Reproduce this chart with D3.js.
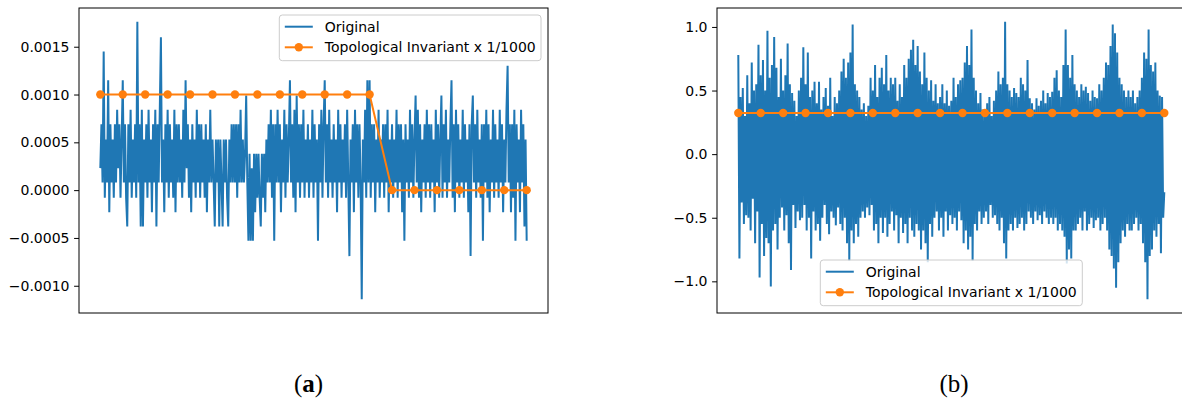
<!DOCTYPE html>
<html><head><meta charset="utf-8">
<script src="https://cdn.jsdelivr.net/npm/d3@7"></script>
<style>body{margin:0;background:#fff}svg{display:block}</style>
</head><body>
<svg id="chart" width="1182" height="401"></svg>
<script>
// ---- data ----
// panel (a): original signal samples
const originalA = [
2.3e-4,6.9e-4,0.8e-4,14.5e-4,-0.8e-4,5.3e-4,0.8e-4,11.5e-4,-2.3e-4,6.9e-4,
0.8e-4,5.3e-4,-0.8e-4,6.9e-4,0.8e-4,8.4e-4,2.3e-4,6.9e-4,-0.8e-4,5.3e-4,
11.5e-4,0.8e-4,6.9e-4,-0.8e-4,-3.8e-4,6.9e-4,0.8e-4,8.4e-4,-0.8e-4,5.3e-4,
0.8e-4,6.9e-4,-0.8e-4,17.6e-4,0.8e-4,6.9e-4,-3.8e-4,8.4e-4,-3.8e-4,5.3e-4,
0.8e-4,6.9e-4,-0.8e-4,8.4e-4,0.8e-4,5.3e-4,-2.3e-4,6.9e-4,0.8e-4,8.4e-4,
-3.8e-4,6.9e-4,0.8e-4,8.4e-4,16e-4,0.8e-4,5.3e-4,-2.3e-4,6.9e-4,0.8e-4,
8.4e-4,-0.8e-4,6.9e-4,0.8e-4,5.3e-4,-0.8e-4,8.4e-4,-2.3e-4,6.9e-4,0.8e-4,
6.9e-4,0.8e-4,5.3e-4,-0.8e-4,8.4e-4,0.8e-4,11.5e-4,2.3e-4,6.9e-4,-0.8e-4,
5.3e-4,-2.3e-4,6.9e-4,0.8e-4,5.3e-4,-0.8e-4,8.4e-4,0.8e-4,6.9e-4,-0.8e-4,
6.9e-4,0.8e-4,5.3e-4,-0.8e-4,6.9e-4,-2.3e-4,5.3e-4,0.8e-4,8.4e-4,0.8e-4,
5.3e-4,0.8e-4,-3.8e-4,5.3e-4,0.8e-4,5.3e-4,-3.8e-4,5.3e-4,0.8e-4,-3.8e-4,
5.3e-4,0.8e-4,5.3e-4,-0.8e-4,-3.8e-4,5.3e-4,0.8e-4,6.9e-4,0.8e-4,6.9e-4,
0.8e-4,6.9e-4,-0.8e-4,6.9e-4,0.8e-4,8.4e-4,0.8e-4,5.3e-4,0.8e-4,3.8e-4,
9.9e-4,0.8e-4,-5.3e-4,3.8e-4,-5.3e-4,2.3e-4,-5.3e-4,3.8e-4,-2.3e-4,3.8e-4,
-0.8e-4,3.8e-4,-0.8e-4,-3.8e-4,3.8e-4,-0.8e-4,3.8e-4,-2.3e-4,5.3e-4,0.8e-4,
6.9e-4,0.8e-4,8.4e-4,-0.8e-4,6.9e-4,-5.3e-4,6.9e-4,0.8e-4,8.4e-4,0.8e-4,
6.9e-4,-2.3e-4,5.3e-4,0.8e-4,8.4e-4,-0.8e-4,6.9e-4,0.8e-4,5.3e-4,11.5e-4,
0.8e-4,6.9e-4,-0.8e-4,8.4e-4,-2.3e-4,9.9e-4,0.8e-4,6.9e-4,-0.8e-4,6.9e-4,
0.8e-4,8.4e-4,-0.8e-4,5.3e-4,0.8e-4,6.9e-4,-0.8e-4,5.3e-4,0.8e-4,8.4e-4,
-0.8e-4,6.9e-4,0.8e-4,5.3e-4,-5.3e-4,6.9e-4,0.8e-4,8.4e-4,-0.8e-4,6.9e-4,
11.5e-4,0.8e-4,6.9e-4,-0.8e-4,8.4e-4,0.8e-4,5.3e-4,-0.8e-4,6.9e-4,0.8e-4,
5.3e-4,-2.3e-4,8.4e-4,0.8e-4,6.9e-4,-0.8e-4,5.3e-4,0.8e-4,6.9e-4,-0.8e-4,
8.4e-4,0.8e-4,-6.9e-4,5.3e-4,0.8e-4,6.9e-4,-2.3e-4,8.4e-4,0.8e-4,6.9e-4,
-0.8e-4,6.9e-4,0.8e-4,-11.4e-4,5.3e-4,0.8e-4,8.4e-4,-0.8e-4,11.5e-4,0.8e-4,
11.5e-4,-0.8e-4,6.9e-4,0.8e-4,6.9e-4,-2.3e-4,5.3e-4,0.8e-4,8.4e-4,-0.8e-4,
5.3e-4,0.8e-4,6.9e-4,-0.8e-4,6.9e-4,0.8e-4,8.4e-4,-2.3e-4,5.3e-4,0.8e-4,
6.9e-4,-0.8e-4,5.3e-4,0.8e-4,8.4e-4,-0.8e-4,6.9e-4,0.8e-4,6.9e-4,-2.3e-4,
5.3e-4,-5.3e-4,6.9e-4,0.8e-4,5.3e-4,-0.8e-4,8.4e-4,0.8e-4,6.9e-4,-0.8e-4,
5.3e-4,9.9e-4,0.8e-4,8.4e-4,-0.8e-4,6.9e-4,-2.3e-4,5.3e-4,0.8e-4,6.9e-4,
-0.8e-4,8.4e-4,0.8e-4,6.9e-4,-0.8e-4,6.9e-4,0.8e-4,5.3e-4,-2.3e-4,8.4e-4,
0.8e-4,6.9e-4,-0.8e-4,5.3e-4,9.9e-4,-0.8e-4,6.9e-4,0.8e-4,8.4e-4,-0.8e-4,
5.3e-4,0.8e-4,6.9e-4,11.5e-4,-0.8e-4,6.9e-4,-2.3e-4,8.4e-4,0.8e-4,6.9e-4,
-0.8e-4,5.3e-4,0.8e-4,8.4e-4,-0.8e-4,6.9e-4,0.8e-4,5.3e-4,-2.3e-4,6.9e-4,
-6.9e-4,6.9e-4,9.9e-4,0.8e-4,6.9e-4,-0.8e-4,8.4e-4,0.8e-4,5.3e-4,-0.8e-4,
6.9e-4,-5.3e-4,6.9e-4,0.8e-4,8.4e-4,-0.8e-4,6.9e-4,-2.3e-4,5.3e-4,0.8e-4,
8.4e-4,-0.8e-4,6.9e-4,0.8e-4,5.3e-4,-0.8e-4,8.4e-4,0.8e-4,6.9e-4,-2.3e-4,
5.3e-4,0.8e-4,8.4e-4,13e-4,0.8e-4,6.9e-4,-2.3e-4,6.9e-4,-0.8e-4,8.4e-4,
-5.3e-4,6.9e-4,0.8e-4,5.3e-4,-2.3e-4,8.4e-4,0.8e-4,6.9e-4,-3.8e-4,5.3e-4,
-5.3e-4
];
// panel (b): original signal samples
const originalB = [
0.78,-0.82,0.45,-0.38,0.52,-0.55,0.3,-0.48,0.62,-0.5,
0.4,-0.6,0.72,-0.35,0.5,-0.7,0.55,-0.45,0.86,-0.97,
0.62,-0.55,0.74,-0.8,0.5,-0.66,0.97,-0.7,0.6,-1.04,
0.7,-0.6,0.92,-0.55,0.68,-0.75,0.45,-0.5,0.75,-0.42,
0.5,-0.6,0.62,-0.48,0.87,-0.7,0.55,-0.91,0.48,-0.4,
0.42,-0.58,0.3,-0.45,0.5,-0.52,0.6,-0.5,0.84,-0.4,
0.55,-0.6,0.8,-0.5,0.45,-0.82,0.5,-0.45,0.57,-0.6,
0.4,-0.55,0.57,-0.68,0.35,-0.5,0.45,-0.4,0.52,-0.55,
0.38,-0.63,0.6,-0.45,0.3,-0.5,0.45,-0.56,0.4,-0.42,
0.5,-0.55,0.65,-0.6,0.75,-0.5,0.6,-0.7,0.72,-0.84,
0.8,-0.6,1.02,-0.7,0.55,-0.55,0.5,-0.65,0.45,-0.5,
0.35,-0.45,0.4,-0.5,0.3,-0.42,0.38,-0.48,0.6,-0.4,
0.5,-0.6,0.7,-0.55,0.45,-0.7,0.6,-0.5,0.68,-0.62,
0.55,-0.5,0.78,-0.65,0.5,-0.55,0.6,-0.45,0.55,-0.6,
0.6,-0.48,0.42,-0.7,0.55,-0.5,0.45,-0.62,0.7,-0.55,
0.6,-0.7,0.75,-0.5,0.82,-0.6,0.9,-0.65,0.7,-0.55,
0.85,-0.6,0.65,-0.75,0.55,-0.6,0.8,-0.7,0.6,-0.85,
0.5,-0.55,0.58,-0.65,0.42,-0.5,0.55,-0.45,0.4,-0.6,
0.45,-0.5,0.55,-0.65,0.4,-0.45,0.5,-0.6,0.38,-0.48,
0.42,-0.55,0.6,-0.5,0.45,-0.6,0.55,-0.45,0.58,-0.52,
0.6,-0.7,0.72,-0.6,0.85,-0.75,0.7,-0.65,0.98,-0.84,
0.6,-0.55,0.5,-0.6,0.4,-0.45,0.48,-0.55,0.35,-0.5,
0.33,-0.45,0.4,-0.55,0.45,-0.4,0.3,-0.5,0.42,-0.48,
0.5,-0.55,0.65,-0.6,0.55,-0.5,0.6,-0.7,1.04,-0.82,
0.55,-0.6,0.5,-0.55,0.45,-0.6,0.52,-0.5,0.48,-0.58,
0.45,-0.55,0.6,-0.5,0.55,-0.6,0.5,-0.55,0.74,-0.45,
0.44,-0.5,0.4,-0.55,0.35,-0.45,0.44,-0.52,0.38,-0.48,
0.42,-0.55,0.5,-0.45,0.4,-0.5,0.48,-0.55,0.45,-0.5,
0.49,-0.55,0.6,-0.5,0.66,-0.6,0.5,-0.55,0.45,-0.6,
0.7,-0.65,0.98,-0.86,0.7,-0.75,0.6,-0.82,0.78,-0.6,
0.55,-0.6,0.5,-0.55,0.45,-0.5,0.55,-0.6,0.5,-0.45,
0.53,-0.6,0.48,-0.55,0.42,-0.5,0.5,-0.58,0.45,-0.52,
0.44,-0.5,0.55,-0.6,0.5,-0.55,0.6,-0.5,0.72,-0.6,
0.7,-0.75,0.85,-0.8,1.02,-0.9,0.95,-1.05,0.8,-0.85,
0.6,-0.7,0.55,-0.6,0.5,-0.65,0.45,-0.55,0.5,-0.6,
0.45,-0.6,0.5,-0.55,0.4,-0.5,0.45,-0.6,0.5,-0.55,
0.6,-0.7,0.8,-0.85,0.75,-1.14,0.98,-0.8,0.7,-0.75,
0.65,-0.6,0.72,-0.65,0.5,-0.55,0.46,-0.78,0.45,-0.5,
-0.3
];
// topological invariant (x 1/1000), sampled every 20 samples
const topoIndex = [0,20,40,60,80,100,120,140,160,180,200,220,240,260,280,300,320,340,360,380];
const topoA = [0.001,0.001,0.001,0.001,0.001,0.001,0.001,0.001,0.001,0.001,0.001,0.001,0.001,0,0,0,0,0,0,0];
const topoB = [0.323,0.323,0.323,0.323,0.323,0.323,0.323,0.323,0.323,0.323,0.323,0.323,0.323,0.323,0.323,0.323,0.323,0.323,0.323,0.323];
const ticksA = [-0.001,-0.0005,0,0.0005,0.001,0.0015];
const ticksB = [-1,-0.5,0,0.5,1];
const legendLabels = ["Original","Topological Invariant x 1/1000"];
const captionLetters = ["a","b"];

// ---- drawing ----
const BLUE = "#1f77b4", ORANGE = "#ff7f0e";
const FONT = "'DejaVu Sans', sans-serif";
const FS = 14;
const svg = d3.select("#chart");

const panels = [
  {data: originalA, topo: topoA, ticks: ticksA, fmt: d3.format(".4f"),
   left: 79, right: 548, legend: {x: 279.3, y: 15, w: 261.7, h: 45.7},
   caption: {x: 308.5, bold: true}},
  {data: originalB, topo: topoB, ticks: ticksB, fmt: d3.format(".1f"),
   left: 717, right: 1185.6, legend: {x: 820.3, y: 260, w: 262, h: 45.7},
   caption: {x: 954, bold: false}}
];
const TOP = 8, BOTTOM = 313;

panels.forEach((p, k) => {
  const g = svg.append("g");
  const n = p.data.length;
  const xpad = (n - 1) * 0.05;
  const x = d3.scaleLinear().domain([-xpad, n - 1 + xpad]).range([p.left, p.right]);
  const ext = d3.extent(p.data.concat(p.topo));
  const ypad = (ext[1] - ext[0]) * 0.05;
  const y = d3.scaleLinear().domain([ext[0] - ypad, ext[1] + ypad]).range([BOTTOM, TOP]);

  const clipId = "clip" + k;
  svg.append("clipPath").attr("id", clipId).append("rect")
    .attr("x", p.left).attr("y", TOP).attr("width", p.right - p.left).attr("height", BOTTOM - TOP);

  const plot = g.append("g").attr("clip-path", `url(#${clipId})`);
  plot.append("path").datum(p.data)
    .attr("d", d3.line().x((d, i) => x(i)).y(d => y(d)))
    .attr("fill", "none").attr("stroke", BLUE).attr("stroke-width", 2)
    .attr("stroke-linejoin", "miter").attr("stroke-miterlimit", 2);

  const topoPts = p.topo.map((v, i) => [topoIndex[i], v]);
  plot.append("path").datum(topoPts)
    .attr("d", d3.line().x(d => x(d[0])).y(d => y(d[1])))
    .attr("fill", "none").attr("stroke", ORANGE).attr("stroke-width", 2);
  plot.selectAll("circle.m").data(topoPts).join("circle")
    .attr("cx", d => x(d[0])).attr("cy", d => y(d[1])).attr("r", 4.2)
    .attr("fill", ORANGE);

  // y axis
  const ax = g.append("g").attr("transform", `translate(${p.left},0)`)
    .call(d3.axisLeft(y).tickValues(p.ticks).tickFormat(p.fmt).tickSize(4.9).tickPadding(4.6));
  ax.select(".domain").remove();
  ax.selectAll("text").attr("font-family", FONT).attr("font-size", FS).attr("fill", "#000");
  ax.selectAll("line").attr("stroke", "#000").attr("stroke-width", 1);

  // frame (spines)
  g.append("rect").attr("x", p.left).attr("y", TOP)
    .attr("width", p.right - p.left).attr("height", BOTTOM - TOP)
    .attr("fill", "none").attr("stroke", "#000").attr("stroke-width", 1);

  // legend
  const L = p.legend;
  const lg = g.append("g");
  lg.append("rect").attr("x", L.x).attr("y", L.y).attr("width", L.w).attr("height", L.h)
    .attr("rx", 3).attr("fill", "#fff").attr("fill-opacity", 0.8)
    .attr("stroke", "#cccccc").attr("stroke-width", 1);
  const rows = [L.y + 11.7, L.y + 32.3];
  legendLabels.forEach((lab, j) => {
    const cy = rows[j];
    const col = j === 0 ? BLUE : ORANGE;
    lg.append("line").attr("x1", L.x + 5.5).attr("x2", L.x + 33.5)
      .attr("y1", cy).attr("y2", cy).attr("stroke", col).attr("stroke-width", 2);
    if (j === 1) lg.append("circle").attr("cx", L.x + 19.5).attr("cy", cy).attr("r", 4.2).attr("fill", ORANGE);
    lg.append("text").attr("x", L.x + 45.5).attr("y", cy).attr("dy", "0.36em")
      .attr("font-family", FONT).attr("font-size", FS).attr("fill", "#000").text(lab);
  });

  // caption
  const cap = svg.append("text").attr("x", p.caption.x).attr("y", 392)
    .attr("text-anchor", "middle").attr("font-family", "'Liberation Serif', serif")
    .attr("font-size", 25).attr("fill", "#000");
  cap.append("tspan").text("(");
  cap.append("tspan").attr("font-weight", p.caption.bold ? "bold" : "normal").text(captionLetters[k]);
  cap.append("tspan").text(")");
});
</script>
</body></html>
